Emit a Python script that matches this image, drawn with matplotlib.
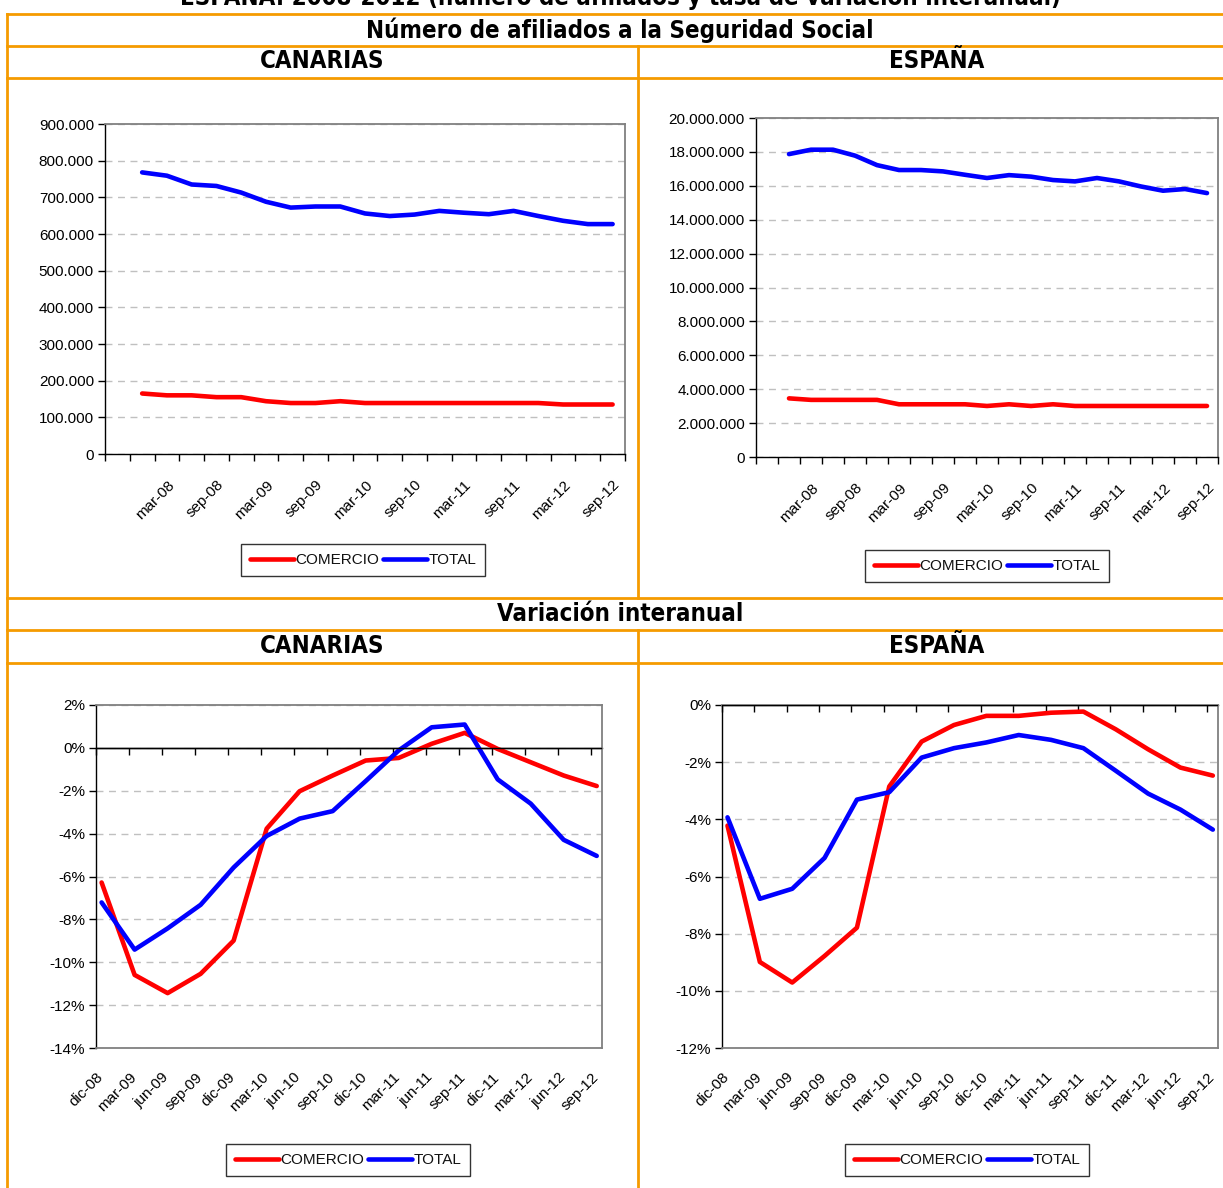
import matplotlib
matplotlib.use("Agg")
import matplotlib.pyplot as plt
from matplotlib.lines import Line2D
import numpy as np

W, H = 1223, 1188
ORANGE = "#F59B00"
RED = "#FF0000"
BLUE = "#0000FF"
GRID = "#C0C0C0"
BORDER = "#808080"

# --- data -------------------------------------------------------------
# Afiliados (quarterly, dic-07 .. sep-12)
trim_labels = ["mar-08", "sep-08", "mar-09", "sep-09", "mar-10",
               "sep-10", "mar-11", "sep-11", "mar-12", "sep-12"]
can_comercio = [165000, 160000, 160000, 155000, 155000, 144000, 139000, 139000,
                144000, 139000, 139000, 139000, 139000, 139000, 139000, 139000,
                139000, 135000, 135000, 135000]
can_total = [768000, 759000, 735000, 731000, 713000, 688000, 672000, 675000,
             675000, 656000, 649000, 653000, 663000, 658000, 654000, 663000,
             649000, 636000, 627000, 627000]
esp_comercio = [3460000, 3370000, 3370000, 3370000, 3370000, 3110000, 3110000,
                3110000, 3110000, 3010000, 3110000, 3010000, 3110000, 3010000,
                3010000, 3010000, 3010000, 3010000, 3010000, 3010000]
esp_total = [17870000, 18130000, 18130000, 17780000, 17220000, 16930000,
             16930000, 16850000, 16650000, 16460000, 16630000, 16540000,
             16340000, 16260000, 16460000, 16260000, 15960000, 15710000,
             15810000, 15570000]

# Variacion interanual (%), dic-08 .. sep-12
var_labels = ["dic-08", "mar-09", "jun-09", "sep-09", "dic-09", "mar-10",
              "jun-10", "sep-10", "dic-10", "mar-11", "jun-11", "sep-11",
              "dic-11", "mar-12", "jun-12", "sep-12"]
can_var_comercio = [-6.28, -10.59, -11.44, -10.54, -8.99, -3.77, -2.02, -1.29,
                    -0.59, -0.47, 0.19, 0.70, -0.05, -0.67, -1.29, -1.78]
can_var_total = [-7.21, -9.41, -8.42, -7.32, -5.58, -4.11, -3.30, -2.95,
                 -1.55, -0.12, 0.96, 1.09, -1.47, -2.60, -4.29, -5.04]
esp_var_comercio = [-4.22, -8.99, -9.71, -8.78, -7.79, -2.85, -1.28, -0.70,
                    -0.38, -0.38, -0.27, -0.23, -0.85, -1.55, -2.19, -2.47]
esp_var_total = [-3.93, -6.78, -6.43, -5.35, -3.31, -3.05, -1.84, -1.51,
                 -1.31, -1.05, -1.22, -1.51, -2.30, -3.10, -3.66, -4.36]

TICKFONT = dict(family=["Liberation Sans", "DejaVu Sans"], size=11)
HEADFONT = dict(family="DejaVu Sans", stretch="condensed", weight="bold")
LW = 3.3

fig = plt.figure(figsize=(W / 100, H / 100), dpi=100)


def px_axes(l, t, r, b):
    return fig.add_axes([l / W, 1 - b / H, (r - l) / W, (b - t) / H])


def style_frame(ax):
    for s in ("top", "right"):
        ax.spines[s].set_color(BORDER)
        ax.spines[s].set_linewidth(1.3)
    ax.spines["left"].set_color("black")
    ax.spines["left"].set_linewidth(1.0)
    ax.tick_params(axis="y", direction="out", length=5, width=1,
                   labelsize=TICKFONT["size"], pad=3)
    for lab in ax.get_yticklabels():
        lab.set_family(TICKFONT["family"])
    ax.yaxis.grid(True, color=GRID, linestyle=(0, (5, 4)), linewidth=1)
    ax.set_axisbelow(True)


def add_legend(ax, cx, cy):
    leg = ax.legend(loc="center", bbox_to_anchor=(cx / W, 1 - cy / H),
                    bbox_transform=fig.transFigure, ncol=2, frameon=True,
                    fancybox=False, handlelength=2.9, handletextpad=0.1,
                    columnspacing=0.2, borderpad=0.6, borderaxespad=0,
                    prop=dict(family=["Liberation Sans Narrow", "Liberation Sans"],
                              size=11))
    leg.get_frame().set_edgecolor("black")
    leg.get_frame().set_linewidth(1.0)
    for t in leg.get_texts():
        t.set_color("#111111")


def afiliados_chart(box, comercio, total, ymax, step, legpos):
    ax = px_axes(*box)
    xs = np.arange(len(total)) + 1.5
    ax.plot(xs, comercio, color=RED, lw=LW, label="COMERCIO",
            solid_capstyle="round")
    ax.plot(xs, total, color=BLUE, lw=LW, label="TOTAL",
            solid_capstyle="round")
    ax.set_xlim(0, len(total) + 1)
    ax.set_ylim(0, ymax)
    yt = np.arange(0, ymax + 1, step)
    ax.set_yticks(yt)
    ax.set_yticklabels([f"{int(v):,}".replace(",", ".") for v in yt])
    style_frame(ax)
    ax.spines["bottom"].set_color("black")
    ax.spines["bottom"].set_linewidth(1.0)
    ax.set_xticks(np.arange(0, len(total) + 2), minor=True)
    ax.set_xticks(np.arange(2, len(total) + 1, 2) + 0.5)
    ax.set_xticklabels(trim_labels, rotation=45, ha="right",
                       rotation_mode="anchor", **TICKFONT)
    ax.tick_params(axis="x", which="minor", length=5, width=1, direction="out")
    ax.tick_params(axis="x", which="major", length=0, pad=17)
    add_legend(ax, *legpos)
    return ax


def variacion_chart(box, comercio, total, ymin, ymax, legpos):
    ax = px_axes(*box)
    n = len(total)
    xs = np.arange(n) + 0.17
    ax.plot(xs, comercio, color=RED, lw=LW, label="COMERCIO",
            solid_capstyle="round")
    ax.plot(xs, total, color=BLUE, lw=LW, label="TOTAL",
            solid_capstyle="round")
    ax.set_xlim(0, n - 1 + 0.33)
    ax.set_ylim(ymin, ymax)
    yt = np.arange(ymin, ymax + 1, 2)
    ax.set_yticks(yt)
    ax.set_yticklabels([f"{v:.0f}%" for v in yt])
    style_frame(ax)
    ax.spines["bottom"].set_color(BORDER)
    ax.spines["bottom"].set_linewidth(1.3)
    ax.set_xticks(np.arange(n))
    ax.set_xticklabels(var_labels, rotation=45, ha="right",
                       rotation_mode="anchor", **TICKFONT)
    ax.tick_params(axis="x", length=0, pad=16)
    # category axis crossing at 0 %
    ax.axhline(0, color="black", lw=1.0, zorder=3)
    frac = (0 - ymin) / (ymax - ymin)
    sec = ax.secondary_xaxis(frac)
    sec.set_xticks(np.arange(n))
    sec.tick_params(axis="x", direction="in", length=5, width=1,
                    labeltop=False, labelbottom=False)
    for s in sec.spines.values():
        s.set_color("black")
        s.set_linewidth(1.0)
    add_legend(ax, *legpos)
    return ax


afiliados_chart((105, 124, 625, 454), can_comercio, can_total,
                900000, 100000, (363, 560))
afiliados_chart((756, 118, 1218, 457), esp_comercio, esp_total,
                20000000, 2000000, (987, 566))
variacion_chart((96, 705, 602, 1048), can_var_comercio, can_var_total,
                -14, 2, (348, 1160))
variacion_chart((722, 705, 1218, 1048), esp_var_comercio, esp_var_total,
                -12, 0, (967, 1160))

# --- table frame and headers ------------------------------------------
def hline(y, x0=7, x1=W):
    fig.add_artist(Line2D([x0 / W, x1 / W], [1 - y / H, 1 - y / H],
                          color=ORANGE, lw=2, transform=fig.transFigure))


def vline(x, y0, y1):
    fig.add_artist(Line2D([x / W, x / W], [1 - y0 / H, 1 - y1 / H],
                          color=ORANGE, lw=2, transform=fig.transFigure))


for y in (14, 46, 78, 598, 630, 663):
    hline(y)
vline(7, 14, H)
vline(638, 46, 598)
vline(638, 630, H)


def head(x, y, s, size=17.3):
    fig.text(x / W, 1 - y / H, s, ha="center", va="center",
             fontsize=size, **HEADFONT)


# first line of the original title lies above the picture; only its lower
# part is visible
head(620, -4, "ESPAÑA. 2008-2012 (número de afiliados y tasa de variación interanual)")
head(620, 30, "Número de afiliados a la Seguridad Social")
head(322, 61, "CANARIAS")
head(937, 61, "ESPAÑA")
head(620, 614, "Variación interanual")
head(322, 646, "CANARIAS")
head(937, 646, "ESPAÑA")

fig.savefig("out.png", dpi=100)
